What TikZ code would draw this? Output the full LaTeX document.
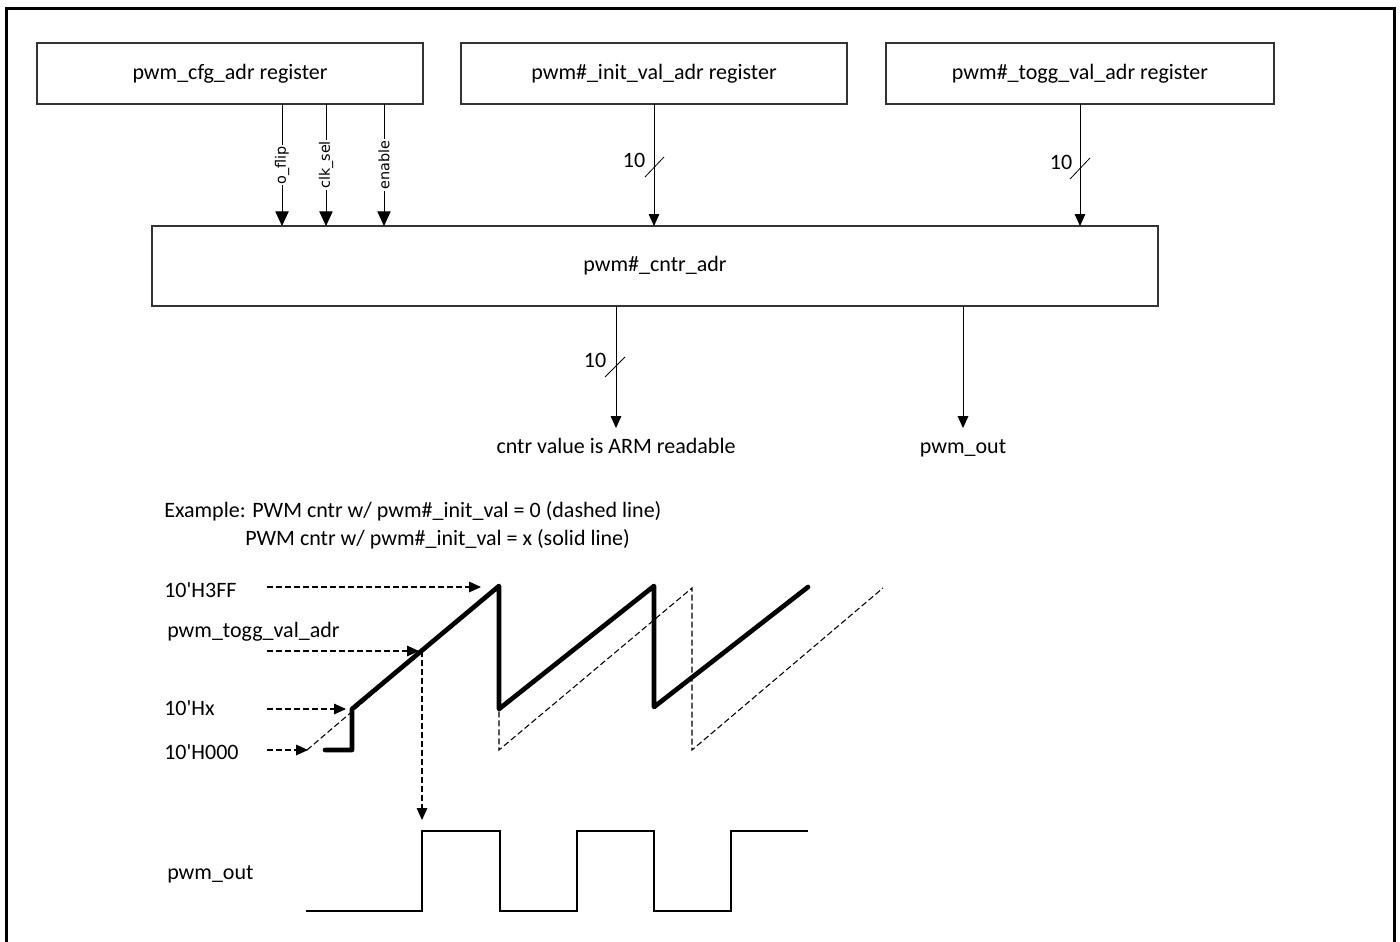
\documentclass[tikz,border=0pt]{standalone}
\usepackage{fontspec}
\setmainfont{Carlito}[Ligatures=TeXOff]
\newfontfamily\sigfont{DejaVu Sans}
\usetikzlibrary{arrows.meta}
\begin{document}
\begin{tikzpicture}[x=0.75pt,y=-0.75pt,
  txt/.style={font=\fontsize{16.5}{19}\selectfont, inner sep=0pt},
  regbox/.style={draw=black!80, line width=0.9pt, inner sep=0pt, outer sep=0pt,
    minimum height=45.75pt, font=\fontsize{16.5}{19}\selectfont},
  siglabel/.style={rotate=90, fill=white, inner sep=1pt, font=\sigfont\fontsize{10.8}{12}\selectfont},
  cfgarrow/.style={line width=0.75pt, -{Triangle[length=11pt,width=10pt]}},
  busarrow/.style={line width=0.75pt, -{Triangle[length=9pt,width=8pt]}},
  tick/.style={line width=0.6pt},
  dasharrow/.style={line width=0.8pt, dash pattern=on 4.5pt off 2.25pt, -{Triangle[length=9pt,width=8pt]}},
  thin dash/.style={line width=0.8pt, dash pattern=on 4.5pt off 2.25pt},
  ramp/.style={line width=3.5pt, line join=round, line cap=round},
  wave/.style={line width=0.8pt},
  endtxt/.style={font=\fontsize{16.5}{19}\selectfont, text height=11pt, text depth=3.5pt, inner xsep=0pt, inner ysep=7.5pt}
]
\useasboundingbox (0,0) rectangle (1400,942);
% frame
\draw[line width=1.6pt] (6.5,942) -- (6.5,8.5) -- (1394.5,8.5) -- (1394.5,942);

% register boxes
\node[regbox, minimum width=289.5pt] (cfg) at (230,73.5) {pwm\_cfg\_adr register};
\node[regbox, minimum width=289.5pt] (init) at (654,73.5) {pwm\#\_init\_val\_adr register};
\node[regbox, minimum width=291pt] (togg) at (1080,73.5) {pwm\#\_togg\_val\_adr register};
\node[regbox, minimum width=754.5pt, minimum height=60pt] (cntr) at (655,266) {pwm\#\_cntr\_adr};

% config signals
\coordinate (xo) at (282,0);
\coordinate (xc) at (326,0);
\coordinate (xe) at (384,0);
\draw[cfgarrow] (cfg.south -| xo) -- (cntr.north -| xo) node[siglabel, midway] {o\_flip};
\draw[cfgarrow] (cfg.south -| xc) -- (cntr.north -| xc) node[siglabel, midway] {clk\_sel};
\draw[cfgarrow] (cfg.south -| xe) -- (cntr.north -| xe) node[siglabel, midway] {enable};

% init bus
\draw[busarrow] (init.south) -- (cntr.north -| init.south);
\draw[tick] (645,177) -- (664,157);
\node[txt, anchor=base] (n1) at (634,167) {10};

% togg bus
\coordinate (xt) at (1080,0);
\draw[busarrow] (togg.south -| xt) -- (cntr.north -| xt);
\draw[tick] (1070,179) -- (1090,158);
\node[txt, anchor=base] (n2) at (1061,169) {10};

% outputs
\node[endtxt, anchor=base] (arm) at (616,453) {cntr value is ARM readable};
\node[endtxt, anchor=base] (pout) at (963,453) {pwm\_out};
\draw[busarrow] (cntr.south -| arm) -- (arm.north);
\draw[tick] (605,377) -- (625,357);
\node[txt, anchor=base] (n3) at (595,367) {10};
\draw[busarrow] (cntr.south -| pout) -- (pout.north);

% example text
\node[txt, anchor=base west] (ex1) at (164,517) {Example: PWM cntr w/ pwm\#\_init\_val = 0 (dashed line)};
\node[txt, anchor=base west] (ex2) at (245,545) {PWM cntr w/ pwm\#\_init\_val = x (solid line)};

% level labels
\node[txt, anchor=base west] (l3ff) at (164,597) {10'H3FF};
\node[txt, anchor=base west] (ltog) at (167,637) {pwm\_togg\_val\_adr};
\node[txt, anchor=base west] (lhx) at (164,715) {10'Hx};
\node[txt, anchor=base west] (l000) at (164,759) {10'H000};
\node[txt, anchor=base west] (lout) at (167,879) {pwm\_out};

% key points
\coordinate (z0) at (307,750);
\coordinate (s0) at (325,750);
\coordinate (s1) at (352,750);
\coordinate (hx) at (352,709);
\coordinate (pk1) at (499,586);
\coordinate (lo1) at (499,709);
\coordinate (pk2) at (654,586);
\coordinate (lo2) at (654,707);
\coordinate (e1) at (808,587);
\coordinate (tg) at (422,651);

% dashed counter (init = 0)
\draw[thin dash] (z0) -- (pk1) -- (499,750) -- (692,588) -- (692,750) -- (883,588);
% solid counter (init = x)
\draw[ramp] (s0) -- (s1) -- (hx) -- (pk1) -- (lo1) -- (pk2) -- (lo2) -- (e1);

% dashed pointer arrows
\draw[dasharrow] (267,587) -- (481,587);
\draw[dasharrow] (267,651) -- (419,651);
\draw[dasharrow] (267,709) -- (346,709);
\draw[dasharrow] (267,750) -- (308,750);
\draw[dasharrow] (tg) -- (422,820);

% pwm_out waveform
\draw[wave] (306,911) -- (422,911) -- (422,831) -- (500,831) -- (500,911) -- (577,911) -- (577,831) -- (654,831) -- (654,911) -- (731,911) -- (731,831) -- (808,831);
\end{tikzpicture}
\end{document}
